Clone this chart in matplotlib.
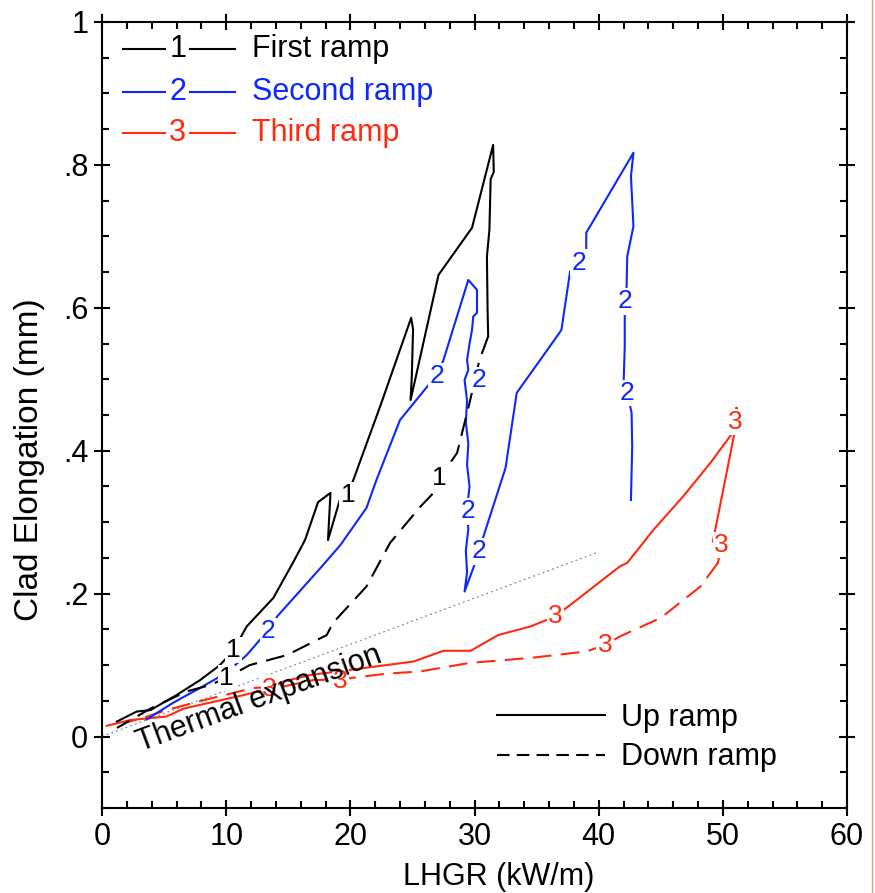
import numpy as np
import matplotlib.pyplot as plt
from matplotlib.lines import Line2D
from matplotlib.ticker import MultipleLocator, FixedLocator, FixedFormatter

"""
Elongación de la vaina frente a la potencia lineal (LHGR)
para tres rampas de potencia sucesivas.
"""

plt.rcParams['font.family'] = ['Liberation Sans', 'DejaVu Sans']

# ---- Datos (LHGR en kW/m, elongación en mm) ----
# Primera rampa (negro)
x_r1_sube = [1.2, 2.8, 3.9, 6.0, 7.9, 9.5, 10.6, 11.65, 13.8, 15.4, 16.35, 17.4, 18.4, 18.2,
             19.2, 19.8, 22.4, 24.9, 25.05, 24.95, 24.85, 25.1, 27.1, 29.8, 31.4, 31.5,
             31.55, 31.3, 31.2, 31.0, 31.05, 31.1]
y_r1_sube = [0.021, 0.035, 0.037, 0.058, 0.079, 0.100, 0.121, 0.154, 0.194, 0.244, 0.275, 0.328,
             0.341, 0.275, 0.334, 0.338, 0.462, 0.586, 0.570, 0.504, 0.471, 0.490, 0.646, 0.712,
             0.821, 0.828, 0.790, 0.780, 0.709, 0.672, 0.600, 0.560]
x_r1_baja = [31.1, 30.4, 29.6, 28.6, 27.2, 26.7, 25.6, 23.2, 21.3, 18.6, 18.1, 14.9, 11.9, 10.0,
             8.7, 6.8, 4.0, 1.2]
y_r1_baja = [0.560, 0.527, 0.467, 0.397, 0.362, 0.341, 0.321, 0.271, 0.210, 0.159, 0.142, 0.114,
             0.100, 0.082, 0.072, 0.063, 0.040, 0.012]

# Segunda rampa (azul)
x_r2_sube = [3.6, 5.7, 7.9, 10.0, 11.65, 12.7, 13.4, 14.1, 17.6, 19.2, 21.3, 22.1, 24.0, 26.3,
             26.95, 27.5, 29.5, 30.2, 30.2, 29.9, 29.8, 29.6, 29.4, 29.5, 29.2, 29.4, 29.3,
             29.5, 29.4, 29.6, 29.4, 29.5, 29.3, 29.4, 29.2, 30.4, 30.7, 32.5, 33.4, 35.7,
             37.0, 37.7, 38.4, 39.0, 39.0, 42.8, 42.6, 42.8, 42.3, 42.25, 42.1, 42.1, 42.0,
             42.3, 42.65, 42.7, 42.6]
y_r2_sube = [0.024, 0.047, 0.068, 0.089, 0.114, 0.135, 0.147, 0.168, 0.236, 0.268, 0.320, 0.359,
             0.443, 0.492, 0.504, 0.527, 0.639, 0.625, 0.593, 0.588, 0.569, 0.550, 0.527, 0.513,
             0.499, 0.470, 0.440, 0.410, 0.380, 0.350, 0.320, 0.290, 0.260, 0.230, 0.203, 0.259,
             0.279, 0.376, 0.481, 0.537, 0.569, 0.651, 0.663, 0.681, 0.705, 0.817, 0.784, 0.714,
             0.672, 0.630, 0.609, 0.546, 0.490, 0.481, 0.453, 0.406, 0.331]

# Tercera rampa (rojo)
x_r3_sube = [0.38, 2.25, 5.2, 6.55, 11.4, 13.5, 14.6, 16.75, 22.9, 25.1, 27.5, 29.7, 31.9, 34.5,
             36.5, 37.4, 41.7, 42.3, 44.4, 46.8, 49.0, 51.0, 51.1, 51.0, 49.2, 49.9, 49.6]
y_r3_sube = [0.015, 0.023, 0.028, 0.039, 0.058, 0.067, 0.077, 0.086, 0.100, 0.105, 0.120, 0.120,
             0.142, 0.154, 0.168, 0.180, 0.238, 0.243, 0.289, 0.336, 0.383, 0.430, 0.460, 0.430,
             0.273, 0.268, 0.243]
x_r3_baja = [49.6, 48.2, 45.0, 41.7, 40.5, 39.0, 34.5, 29.6, 25.6, 22.9, 19.2, 17.0, 14.6, 12.2,
             8.0, 5.2, 3.3, 2.0]
y_r3_baja = [0.243, 0.210, 0.166, 0.140, 0.128, 0.119, 0.110, 0.103, 0.091, 0.088, 0.080, 0.079,
             0.070, 0.068, 0.050, 0.037, 0.026, 0.020]

# Expansión térmica (recta de referencia)
x_termica = [0.0, 39.8]
y_termica = [0.0, 0.257]

# Etiquetas numéricas sobre las curvas: (x, y)
etiquetas_r1 = [(10.6, 0.121), (19.8, 0.338), (27.2, 0.362), (10.0, 0.082)]
etiquetas_r2 = [(13.4, 0.147), (26.95, 0.504), (30.4, 0.499), (29.5, 0.315), (30.4, 0.259),
                (38.4, 0.663), (42.1, 0.609), (42.3, 0.481)]
etiquetas_r3 = [(13.5, 0.067), (36.5, 0.168), (49.9, 0.268), (51.0, 0.440), (40.5, 0.128),
                (19.2, 0.078)]

nombres_rampa = ['First ramp', 'Second ramp', 'Third ramp']
colores = ['black', '#0a28ff', '#ff2a10']

# ---- Figura ----
fig = plt.figure(figsize=(8.75, 8.93), dpi=100)
ax = fig.add_axes([0.1166, 0.0952, 0.8514, 0.8802])

lw = 1.5
guiones = [9, 4.5]

ax.plot(x_termica, y_termica, color='#8a8a8a', linewidth=0.9, linestyle=(0, (1.5, 2.5)), zorder=1)

ax.plot(x_r3_sube, y_r3_sube, color=colores[2], linewidth=lw, zorder=2)
ax.plot(x_r3_baja, y_r3_baja, color=colores[2], linewidth=lw, dashes=guiones, zorder=2)
ax.plot(x_r2_sube, y_r2_sube, color=colores[1], linewidth=lw, zorder=3)
ax.plot(x_r1_sube, y_r1_sube, color=colores[0], linewidth=lw, zorder=4)
ax.plot(x_r1_baja, y_r1_baja, color=colores[0], linewidth=lw, dashes=guiones, zorder=4)

caja = dict(boxstyle='square,pad=0.05', facecolor='white', edgecolor='none')
for etiquetas, num, color in [(etiquetas_r1, '1', colores[0]),
                              (etiquetas_r2, '2', colores[1]),
                              (etiquetas_r3, '3', colores[2])]:
    for (xe, ye) in etiquetas:
        ax.text(xe, ye, num, color=color, fontsize=19, ha='center', va='center',
                bbox=caja, zorder=6)

# Texto de expansión térmica, paralelo a la recta
ax.text(12.7, 0.053, 'Thermal expansion', fontsize=22, rotation=20.3,
        rotation_mode='anchor', ha='center', va='center', zorder=7)

# Leyenda de rampas (arriba a la izquierda): —n— nombre
filas_y = [0.965, 0.911, 0.859]
for i in range(3):
    yf = filas_y[i]
    ax.plot([0.028, 0.085], [yf, yf], color=colores[i], linewidth=lw, transform=ax.transAxes)
    ax.plot([0.118, 0.178], [yf, yf], color=colores[i], linewidth=lw, transform=ax.transAxes)
    ax.text(0.1015, yf, str(i + 1), color=colores[i], fontsize=22, ha='center', va='center',
            transform=ax.transAxes)
    ax.text(0.2013, yf, nombres_rampa[i], color=colores[i], fontsize=22, ha='left', va='center',
            transform=ax.transAxes)

# Leyenda de tipo de línea (abajo a la derecha)
manejadores = [Line2D([], [], color='black', linewidth=lw),
               Line2D([], [], color='black', linewidth=lw, dashes=[6, 3.5])]
ax.legend(manejadores, ['Up ramp', 'Down ramp'], loc='center left',
          bbox_to_anchor=(0.530, 0.0897), frameon=False, fontsize=22,
          handlelength=3.55, handletextpad=0.5, labelspacing=0.32,
          borderpad=0, borderaxespad=0)

# ---- Ejes ----
ax.set_xlim(0, 60)
ax.set_ylim(-0.1, 1.0)
ax.xaxis.set_major_locator(MultipleLocator(10))
ax.xaxis.set_minor_locator(MultipleLocator(2))
ax.yaxis.set_major_locator(FixedLocator([0, 0.2, 0.4, 0.6, 0.8, 1.0]))
ax.yaxis.set_major_formatter(FixedFormatter(['0', '.2', '.4', '.6', '.8', '1']))
ax.yaxis.set_minor_locator(MultipleLocator(0.05))

ax.tick_params(which='major', direction='inout', length=12, width=1.5, labelsize=22,
               top=True, right=True, pad=4)
ax.tick_params(which='minor', direction='in', length=5, width=1.5, top=True, right=True)
for lado in ax.spines.values():
    lado.set_linewidth(1.5)

ax.set_xlabel('LHGR (kW/m)', fontsize=22)
ax.xaxis.set_label_coords(0.532, -0.069)
ax.set_ylabel('Clad Elongation (mm)', fontsize=24)
ax.yaxis.set_label_coords(-0.0765, 0.443)

# Línea roja del borde derecho de la imagen original
fig.add_artist(Line2D([0.9966, 0.9966], [0, 1], color='#ff8c8c', linewidth=1.0))

fig.savefig('out.png', dpi=100)
